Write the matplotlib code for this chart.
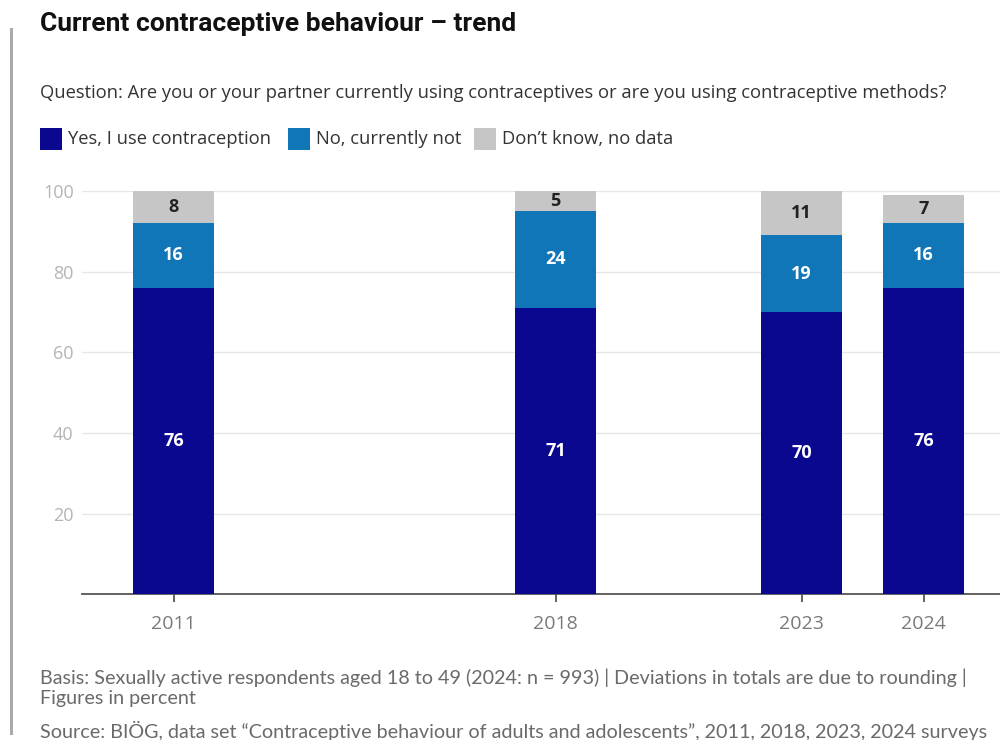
import matplotlib
matplotlib.use("Agg")
import matplotlib.pyplot as plt
from matplotlib.patches import Rectangle

years = ["2011", "2018", "2023", "2024"]
series_names = ["Yes, I use contraception", "No, currently not", "Don\u2019t know, no data"]
yes_vals = [76, 71, 70, 76]
no_vals = [16, 24, 19, 16]
dk_vals = [8, 5, 11, 7]
y_ticks = [20, 40, 60, 80, 100]

colors = ["#0b0890", "#1176b8", "#c6c6c6"]
label_colors = ["white", "white", "#222222"]

# layout (x positions of the bars, in axis units)
xpos = [173.5, 555.5, 801.5, 923.5]
bar_w = 81

fig = plt.figure(figsize=(10, 7.4), dpi=100)
ax = fig.add_axes([0.082, 0.197, 0.918, 0.545])

series = [yes_vals, no_vals, dk_vals]
bottoms = [0] * len(years)
for vals, col, lc in zip(series, colors, label_colors):
    ax.bar(xpos, vals, width=bar_w, bottom=bottoms, color=col, zorder=3, linewidth=0)
    for x, b, v in zip(xpos, bottoms, vals):
        ax.text(x, b + v / 2, str(v), ha="center", va="center", color=lc,
                fontsize=13, fontweight="bold", family="Open Sans", zorder=4)
    bottoms = [b + v for b, v in zip(bottoms, vals)]

ax.set_xlim(82, 1000)
ax.set_ylim(0, 100)
ax.set_yticks(y_ticks)
ax.set_yticklabels([str(t) for t in y_ticks])
ax.set_xticks(xpos)
ax.set_xticklabels(years)
ax.grid(axis="y", color="#e6e6e6", linewidth=1, zorder=0)
for s in ["top", "right", "left"]:
    ax.spines[s].set_visible(False)
ax.spines["bottom"].set_color("#555555")
ax.spines["bottom"].set_linewidth(1.3)
ax.tick_params(axis="y", length=0, labelsize=13, labelcolor="#b5b5b5", pad=6)
ax.tick_params(axis="x", length=6, width=1.3, color="#555555", labelsize=14,
               labelcolor="#7a7a7a", pad=9)
for lab in ax.get_xticklabels() + ax.get_yticklabels():
    lab.set_family("Open Sans")

# left decorative bar
fig.add_artist(Rectangle((0.010, 0.007), 0.003, 0.955, transform=fig.transFigure,
                         color="#aaaaaa", linewidth=0))

fig.text(0.040, 0.968, "Current contraceptive behaviour \u2013 trend", ha="left", va="center",
         fontsize=19, fontweight="bold", family="Roboto", color="#111111")
fig.text(0.040, 0.874, "Question: Are you or your partner currently using contraceptives or are you using contraceptive methods?",
         ha="left", va="center", fontsize=13.2, family="Open Sans", color="#333333")

# legend
leg_x = [0.040, 0.288, 0.474]
for lx, name, col in zip(leg_x, series_names, colors):
    fig.add_artist(Rectangle((lx, 0.797), 0.022, 0.0297, transform=fig.transFigure,
                             color=col, linewidth=0))
    fig.text(lx + 0.028, 0.812, name, ha="left", va="center", fontsize=13.2,
             family="Open Sans", color="#333333")

foot_kw = dict(ha="left", va="center", fontsize=14.2, family="Lato", color="#6a6a6a")
fig.text(0.040, 0.084, "Basis: Sexually active respondents aged 18 to 49 (2024: n = 993) | Deviations in totals are due to rounding |", **foot_kw)
fig.text(0.040, 0.056, "Figures in percent", **foot_kw)
fig.text(0.040, 0.012, "Source: BI\u00d6G, data set \u201cContraceptive behaviour of adults and adolescents\u201d, 2011, 2018, 2023, 2024 surveys", **foot_kw)

fig.savefig("out.png", dpi=100)
